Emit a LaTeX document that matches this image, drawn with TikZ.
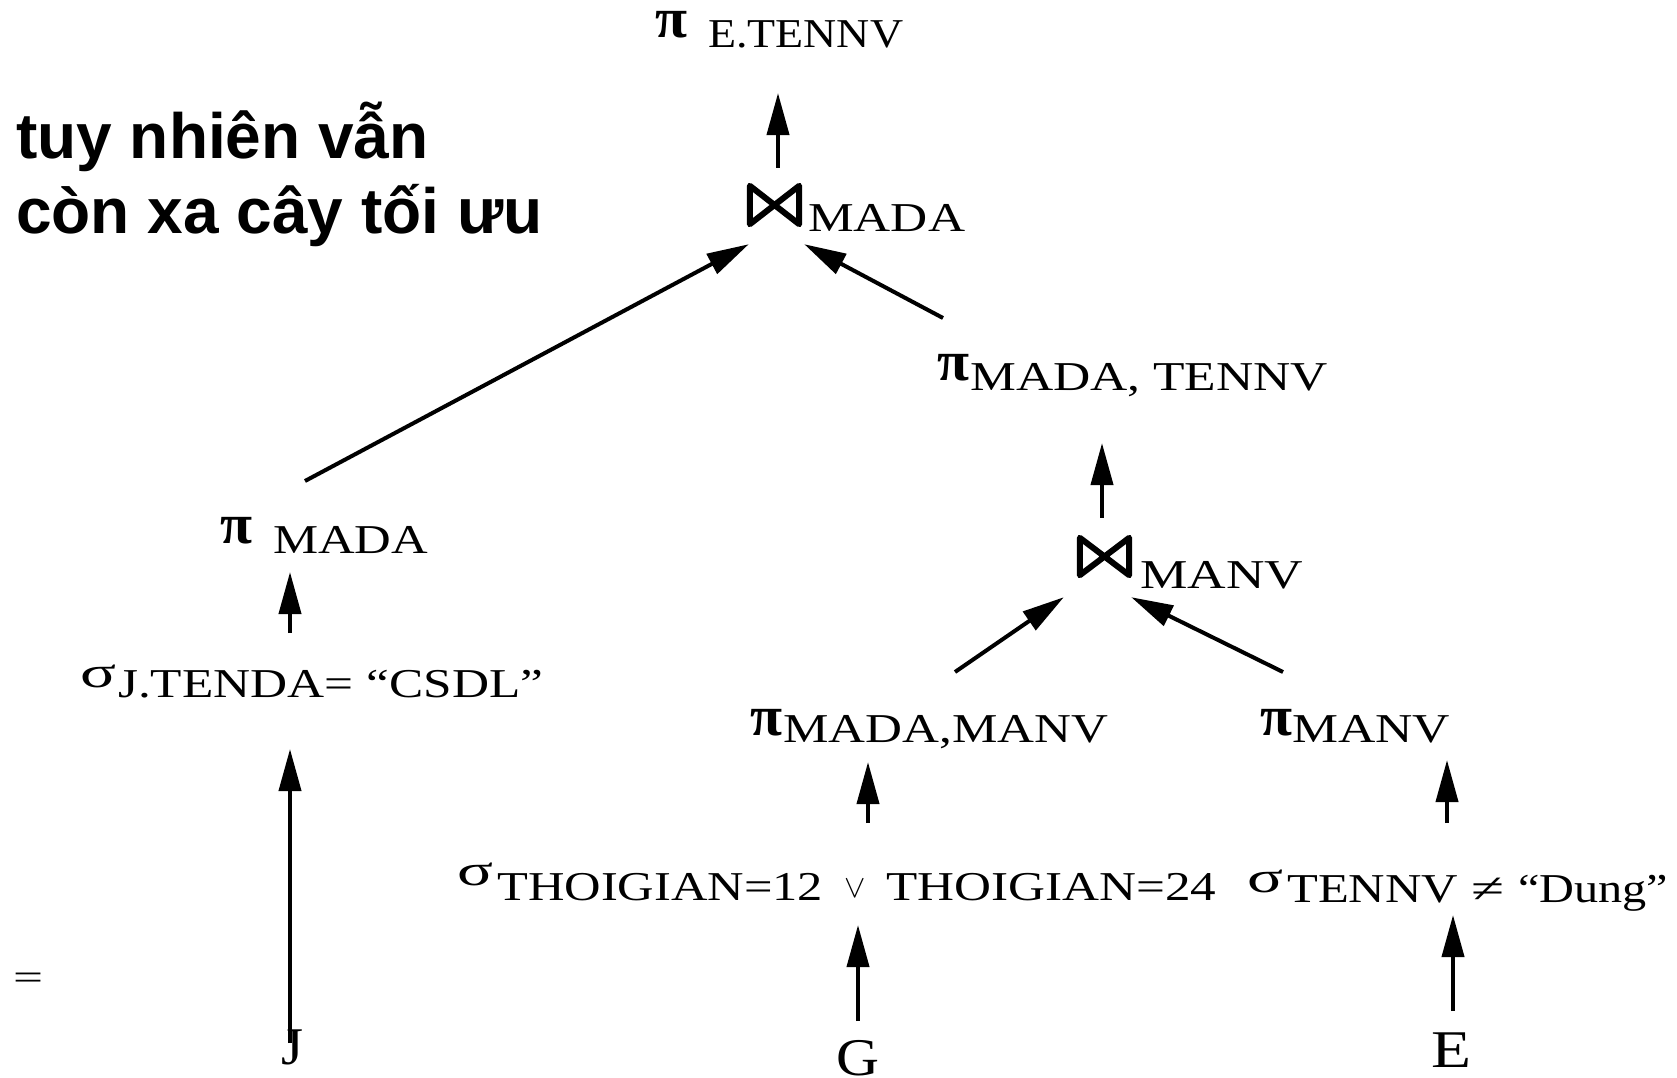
\RequirePackage{fix-cm}
\documentclass[tikz,border=0pt]{standalone}
\usepackage{fontspec}
\usepackage{graphicx}
\setmainfont{Liberation Serif}
\newfontfamily\vnsans{Liberation Sans}
\usetikzlibrary{arrows.meta}

% squeeze or stretch a piece of text to a given width, keeping its height
\newcommand\fitw[2]{\resizebox{#1pt}{\height}{#2}}
% operator symbol in a box of fixed width, raised above the baseline
\newcommand\opsym[3]{\makebox[#1pt][l]{\raisebox{#2pt}{#3}}}
\newcommand\piop{\fitw{32}{\fontsize{57}{60}\selectfont\bfseries π}}
\newcommand\sigop{\fitw{36}{\fontsize{44}{50}\selectfont σ}}
\newcommand\orop{{\fontsize{32}{38}\selectfont$\vee$}}
\newcommand\neop{\fitw{33}{≠}}

\begin{document}
\begin{tikzpicture}[x=1pt,y=1pt,
  expr/.style={anchor=base west, inner sep=0pt, font=\fontsize{41}{49}\selectfont},
  leaf/.style={anchor=base, inner sep=0pt, font=\fontsize{53}{60}\selectfont},
  joinop/.style={minimum width=55pt, minimum height=44pt, inner sep=0pt},
  bowtie/.style={line width=6pt, line join=round},
  note/.style={anchor=base west, inner sep=0pt, font=\vnsans\bfseries\fontsize{64}{75}\selectfont},
  arr/.style={line width=4pt, -{Triangle[length=42pt,width=22pt]}}]

\fill[white] (0,0) rectangle (1677,-1077);
\useasboundingbox (0,0) rectangle (1677,-1077);

% remark on the left
\node[note] (vt1) at (16,-158) {tuy nhiên vẫn};
\node[note] (vt2) at (16,-233) {còn xa cây tối ưu};
\node[inner sep=0pt, font=\fontsize{36}{42}\selectfont] (eq) at (28,-981) {\fitw{30}{=}};

% operator tree
\node[expr] (top) at (655,-47) {\opsym{53}{10}{\piop}\fitw{195}{E.TENNV}};

\node[joinop] (j1) at (774.5,-205) {};
\node[expr] (j1s) at (808,-231) {\fitw{157}{MADA}};

\node[expr] (pmt) at (937,-390) {\opsym{33}{10}{\piop}\fitw{358}{MADA, TENNV}};

\node[joinop, minimum height=43pt] (j2) at (1104.5,-556.5) {};
\node[expr] (j2s) at (1140,-588) {\fitw{163}{MANV}};

\node[expr] (pm) at (220,-553) {\opsym{53}{10}{\piop}\fitw{155}{MADA}};
\node[expr] (sj) at (80,-697) {\opsym{38}{10}{\sigop}\fitw{425}{J.TENDA= “CSDL”}};

\node[expr] (pmm) at (750,-742) {\opsym{33}{7}{\piop}\fitw{325}{MADA,MANV}};
\node[expr] (pmv) at (1260,-742) {\opsym{32}{7}{\piop}\fitw{158}{MANV}};

\node[expr] (st) at (457,-900) {\opsym{40}{15}{\sigop}\fitw{326}{THOIGIAN=12}%
  \makebox[63pt]{\raisebox{3pt}{\orop}}\fitw{330}{THOIGIAN=24}};
\node[expr] (sn) at (1247,-902) {\opsym{40}{10}{\sigop}\fitw{171}{TENNV}%
  \makebox[60pt]{\neop}\fitw{150}{“Dung”}};

\node[leaf] (J) at (292,-1064) {\fitw{22}{J}};
\node[leaf] (G) at (858,-1075) {\fitw{43}{G}};
\node[leaf] (E) at (1451,-1067) {\fitw{40}{E}};

% join symbols
\foreach \j in {j1,j2}
  \draw[bowtie] ([shift={(3pt,3pt)}]\j.south west) -- ([shift={(3pt,-3pt)}]\j.north west)
    -- ([shift={(-3pt,3pt)}]\j.south east) -- ([shift={(-3pt,-3pt)}]\j.north east) -- cycle;

% connectors
\draw[arr] ([shift={(3.5,15)}]j1.north) -- ([shift={(123,-46)}]top.base west);
\draw[arr] ([shift={(85,72)}]pm.base west) -- ([shift={(2,-17)}]j1.south west);
\draw[arr] ([shift={(6,72)}]pmt.base west) -- ([shift={(2,-17)}]j1.south east);
\draw[arr] ([shift={(-2.5,17)}]j2.north) -- ([shift={(165,-53)}]pmt.base west);
\draw[arr] ([shift={(210,64)}]sj.base west) -- ([shift={(70,-19)}]pm.base west);
\draw[arr] ([shift={(-2,21)}]J.base) -- ([shift={(210,-52)}]sj.base west);
\draw[arr] ([shift={(205,70)}]pmm.base west) -- ([shift={(-13,-19)}]j2.south west);
\draw[arr] ([shift={(23,70)}]pmv.base west) -- ([shift={(-1,-19)}]j2.south east);
\draw[arr] ([shift={(411,77)}]st.base west) -- ([shift={(118,-20)}]pmm.base west);
\draw[arr] ([shift={(200,79)}]sn.base west) -- ([shift={(187,-18)}]pmv.base west);
\draw[arr] ([shift={(0,54)}]G.base) -- ([shift={(401,-25)}]st.base west);
\draw[arr] ([shift={(2,56)}]E.base) -- ([shift={(206,-13)}]sn.base west);
\end{tikzpicture}
\end{document}
